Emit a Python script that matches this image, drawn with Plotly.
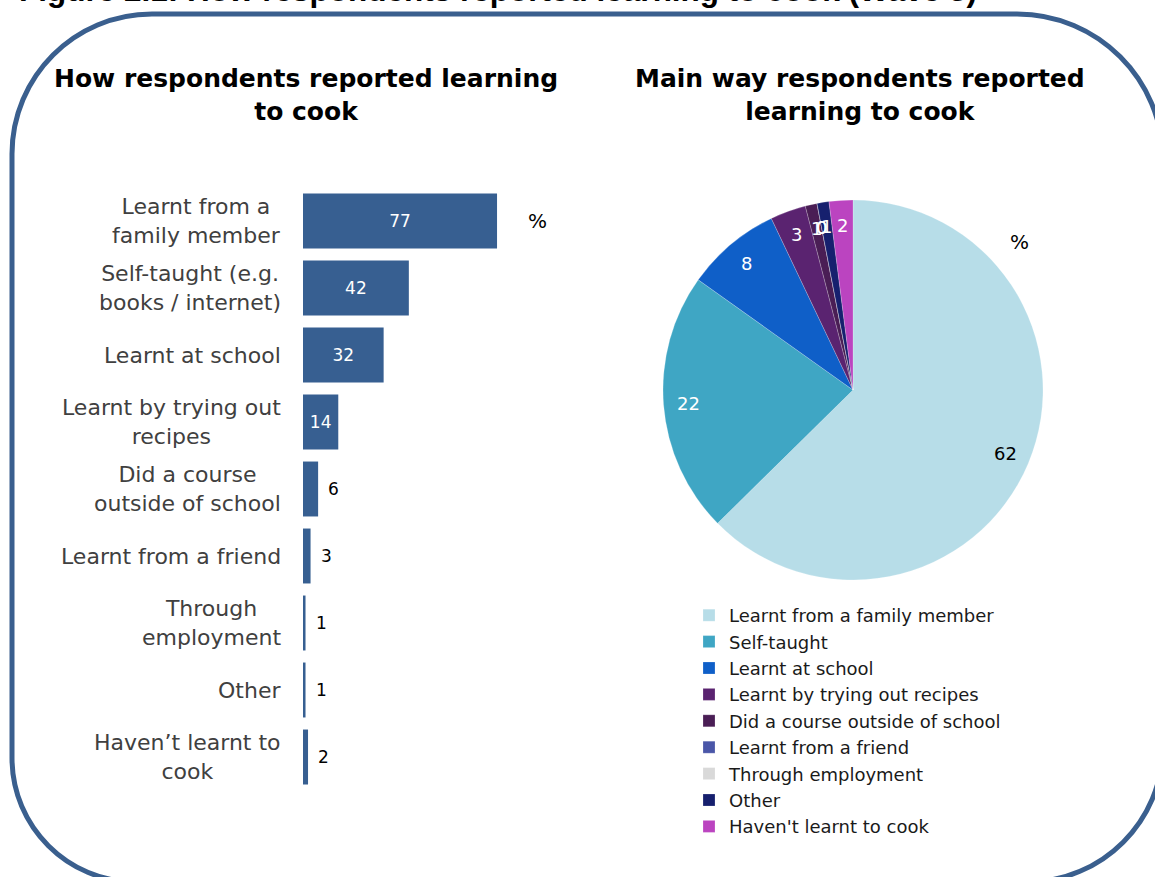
import math
import plotly.graph_objects as go

W, H = 1155, 877

# ---- data -------------------------------------------------------------
bar_labels = [
    "Learnt from a<br>family member",
    "Self-taught (e.g.<br>books / internet)",
    "Learnt at school",
    "Learnt by trying out<br>recipes",
    "Did a course<br>outside of school",
    "Learnt from a friend",
    "Through<br>employment",
    "Other",
    "Haven\u2019t learnt to<br>cook",
]
bar_values = [77, 42, 32, 14, 6, 3, 1, 1, 2]

pie_labels = [
    "Learnt from a family member",
    "Self-taught",
    "Learnt at school",
    "Learnt by trying out recipes",
    "Did a course outside of school",
    "Learnt from a friend",
    "Through employment",
    "Other",
    "Haven't learnt to cook",
]
pie_values = [62, 22, 8, 3, 1, 0, 0, 1, 2]
pie_colors = ["#B7DDE8", "#3FA6C4", "#0F5FC8", "#5A2370", "#4A1E55",
              "#4A56A8", "#D9D9D9", "#16206E", "#BB44C0"]
pie_text_colors = ["black", "white", "white", "white", "white",
                   "white", "white", "white", "white"]

left_title = "How respondents reported learning<br>to cook"
right_title = "Main way respondents reported<br>learning to cook"
figure_title = "Figure 2.1: How respondents reported learning to cook (Wave 3)"


# ---- helpers: pixel -> paper ------------------------------------------
def px(x):
    return x / W


def py(y):
    return 1 - y / H


BAR_COLOR = "#375F91"
FONT = "DejaVu Sans"

fig = go.Figure()

# horizontal bars: large values labelled inside, small ones just past the bar end
inside = [v >= 10 for v in bar_values]
fig.add_trace(go.Bar(
    x=bar_values,
    y=list(range(len(bar_values))),
    orientation="h",
    marker=dict(color=BAR_COLOR, line=dict(width=0)),
    width=0.82,
    text=[str(v) if i else "" for v, i in zip(bar_values, inside)],
    textposition="inside",
    insidetextanchor="middle",
    insidetextfont=dict(family=FONT, size=17, color="white"),
    constraintext="none",
    showlegend=False,
    hoverinfo="skip",
    xaxis="x", yaxis="y",
))

# pie of the main way
PIE_CX, PIE_CY, PIE_R = 853, 390, 190
fig.add_trace(go.Pie(
    labels=pie_labels,
    values=pie_values,
    marker=dict(colors=pie_colors,
                line=dict(color="rgba(255,255,255,0.35)", width=0.6)),
    sort=False,
    direction="clockwise",
    rotation=0,
    textinfo="none",
    domain=dict(x=[px(PIE_CX - PIE_R), px(PIE_CX + PIE_R)],
                y=[py(PIE_CY + PIE_R), py(PIE_CY - PIE_R)]),
    showlegend=True,
    hoverinfo="skip",
))

annotations = []

# category labels, centred block right-aligned next to the bars
for i, lab in enumerate(bar_labels):
    annotations.append(dict(
        x=px(283), xref="paper", xanchor="right",
        y=i, yref="y", yanchor="middle",
        text=lab, align="center", showarrow=False,
        font=dict(family=FONT, size=22, color="#404040"),
    ))

# value labels for the short bars
for i, v in enumerate(bar_values):
    if not inside[i]:
        annotations.append(dict(
            x=v, xref="x", xanchor="left", xshift=8,
            y=i, yref="y", yanchor="middle",
            text=str(v), showarrow=False,
            font=dict(family=FONT, size=17, color="black"),
        ))

# pie value labels near the outer edge of each slice
total = sum(pie_values)
cum = 0.0
for v, c in zip(pie_values, pie_text_colors):
    mid = (cum + v / 2) / total
    cum += v
    ang = 2 * math.pi * mid
    r = 0.87 * PIE_R
    lx = PIE_CX + r * math.sin(ang)
    ly = PIE_CY - r * math.cos(ang)
    annotations.append(dict(
        x=px(lx), y=py(ly), xref="paper", yref="paper",
        xanchor="center", yanchor="middle",
        text=str(v), showarrow=False,
        font=dict(family=FONT, size=18, color=c),
    ))

annotations += [
    dict(x=px(537), y=py(221), xref="paper", yref="paper", text="%",
         xanchor="center", yanchor="middle",
         showarrow=False, font=dict(family=FONT, size=20, color="black")),
    dict(x=px(1019), y=py(242), xref="paper", yref="paper", text="%",
         xanchor="center", yanchor="middle",
         showarrow=False, font=dict(family=FONT, size=20, color="black")),
    dict(x=px(306), y=py(95), xref="paper", yref="paper", text=left_title,
         xanchor="center", yanchor="middle",
         showarrow=False, align="center",
         font=dict(family="DejaVu Sans", size=25, color="black", weight="bold")),
    dict(x=px(860), y=py(95), xref="paper", yref="paper", text=right_title,
         xanchor="center", yanchor="middle",
         showarrow=False, align="center",
         font=dict(family="DejaVu Sans", size=25, color="black", weight="bold")),
    dict(x=px(17), y=py(-10), xref="paper", yref="paper", xanchor="left",
         yanchor="middle", text=figure_title, showarrow=False,
         font=dict(family="Liberation Sans", size=31.5, color="black", weight="bold")),
]

# rounded frame drawn as a path of straight edges and quarter-circle curves
L, T, R, B = 12, 14, 1163, 882
rTL, rTR, rBR, rBL = 140, 146, 136, 124
k = 0.5523


def pt(x, y):
    return f"{px(x):.5f},{py(y):.5f}"


frame = (
    f"M {pt(L + rTL, T)} L {pt(R - rTR, T)} "
    f"C {pt(R - rTR + k * rTR, T)} {pt(R, T + rTR - k * rTR)} {pt(R, T + rTR)} "
    f"L {pt(R, B - rBR)} "
    f"C {pt(R, B - rBR + k * rBR)} {pt(R - rBR + k * rBR, B)} {pt(R - rBR, B)} "
    f"L {pt(L + rBL, B)} "
    f"C {pt(L + rBL - k * rBL, B)} {pt(L, B - rBL + k * rBL)} {pt(L, B - rBL)} "
    f"L {pt(L, T + rTL)} "
    f"C {pt(L, T + rTL - k * rTL)} {pt(L + rTL - k * rTL, T)} {pt(L + rTL, T)} Z"
)

fig.update_layout(
    width=W, height=H,
    margin=dict(l=0, r=0, t=0, b=0),
    paper_bgcolor="white", plot_bgcolor="white",
    font=dict(family=FONT),
    xaxis=dict(domain=[px(303), px(555)], range=[0, 100], visible=False,
               fixedrange=True),
    yaxis=dict(domain=[py(790.5), py(187.5)], range=[8.5, -0.5],
               visible=False, fixedrange=True),
    annotations=annotations,
    shapes=[dict(type="path", path=frame, xref="paper", yref="paper",
                 line=dict(color="#3A5F8E", width=5), layer="above")],
    legend=dict(
        x=px(689), y=py(597), xanchor="left", yanchor="top",
        font=dict(family=FONT, size=18, color="#1a1a1a"),
        itemwidth=30, tracegroupgap=0, bgcolor="rgba(0,0,0,0)",
        traceorder="normal",
    ),
    showlegend=True,
)

fig.write_html("out.html")
